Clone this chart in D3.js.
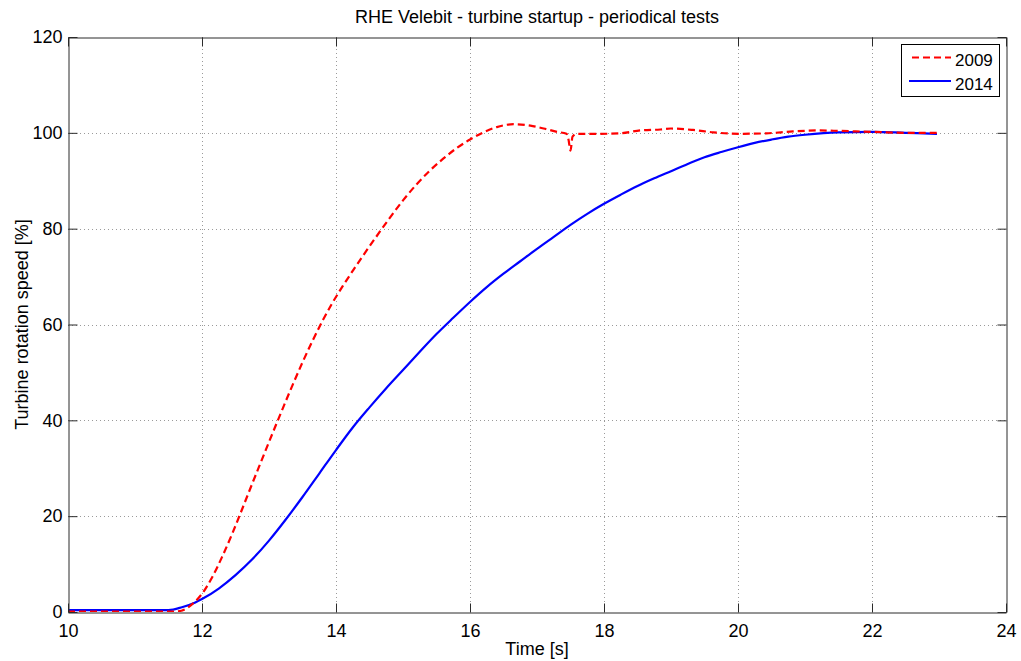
<!DOCTYPE html>
<html>
<head>
<meta charset="utf-8">
<script src="https://cdn.jsdelivr.net/npm/d3@7"></script>
<style>
  html, body { margin: 0; padding: 0; background: #fff; }
  svg { display: block; font-family: "Liberation Sans", Arial, Helvetica, sans-serif; }
</style>
</head>
<body>
<svg id="chart" width="1021" height="661"></svg>
<script>
// Startup run 2009: time [s] and speed [%]
const time2009 = [10, 11.0, 11.6, 11.75, 11.85, 12.0, 12.15, 12.3, 12.45, 12.6, 12.75, 12.9,
  13.05, 13.2, 13.35, 13.5, 13.65, 13.8, 13.95, 14.1, 14.25, 14.4, 14.6, 14.8, 15.0, 15.2,
  15.4, 15.6, 15.8, 16.0, 16.2, 16.4, 16.65, 16.9, 17.1, 17.3, 17.44, 17.47, 17.5, 17.53,
  17.59, 17.94, 18.24, 18.54, 18.84, 19.0, 19.33, 19.63, 20.03, 20.42, 20.82, 21.22, 21.52,
  22.01, 22.5, 23.0];
const speed2009 = [0.1, 0.1, 0.1, 0.6, 1.6, 3.8, 7.2, 11.5, 16.3, 21.5, 26.8, 32.0,
  37.2, 42.3, 47.3, 52.1, 56.6, 60.8, 64.6, 68.0, 71.2, 74.3, 78.3, 82.2, 85.9, 89.2,
  92.1, 94.6, 96.8, 98.6, 100.1, 101.2, 101.8, 101.5, 100.9, 100.2, 99.8, 98.6, 96.3, 99.2,
  99.8, 99.8, 99.9, 100.5, 100.7, 100.9, 100.6, 100.1, 99.8, 99.9, 100.3, 100.5, 100.4,
  100.2, 100.0, 100.0];

// Startup run 2014: time [s] and speed [%]
const time2014 = [10, 11.0, 11.5, 11.7, 11.9, 12.0, 12.25, 12.5, 12.75, 13.0, 13.25, 13.5,
  13.75, 14.0, 14.25, 14.5, 14.75, 15.0, 15.25, 15.5, 15.75, 16.0, 16.25, 16.5, 16.75,
  17.0, 17.25, 17.5, 17.75, 18.0, 18.25, 18.5, 18.75, 19.0, 19.25, 19.5, 19.75, 20.0,
  20.25, 20.5, 20.75, 21.0, 21.5, 22.0, 22.5, 22.97];
const speed2014 = [0.4, 0.4, 0.4, 1.0, 2.0, 2.7, 4.9, 7.7, 11.0, 14.9, 19.3, 24.0,
  28.9, 33.8, 38.5, 42.7, 46.7, 50.5, 54.3, 58.0, 61.4, 64.7, 67.8, 70.6, 73.2,
  75.8, 78.3, 80.8, 83.1, 85.2, 87.1, 88.9, 90.5, 92.0, 93.5, 94.9, 96.0, 97.0,
  97.9, 98.6, 99.2, 99.6, 100.1, 100.2, 100.0, 99.8];

const xTicks = [10, 12, 14, 16, 18, 20, 22, 24];
const yTicks = [0, 20, 40, 60, 80, 100, 120];
const seriesNames = ["2009", "2014"];

const titleText = "RHE Velebit - turbine startup - periodical tests";
const xLabel = "Time [s]";
const yLabel = "Turbine rotation speed [%]";

const svg = d3.select("#chart");
const plotLeft = 68, plotRight = 1006, plotTop = 37, plotBottom = 612;

const x = d3.scaleLinear().domain([10, 24]).range([plotLeft, plotRight]);
const y = d3.scaleLinear().domain([0, 120]).range([plotBottom, plotTop]);

const fontSize = 18;
const frameColor = "#2b2b2b";

// dotted grid
const grid = svg.append("g").attr("stroke", "#9a9a9a").attr("stroke-width", 1)
  .attr("stroke-dasharray", "1,3");
xTicks.slice(1, -1).forEach(t => {
  grid.append("line").attr("x1", Math.round(x(t)) + 0.5).attr("x2", Math.round(x(t)) + 0.5)
    .attr("y1", plotTop).attr("y2", plotBottom);
});
yTicks.slice(1, -1).forEach(t => {
  grid.append("line").attr("y1", Math.round(y(t)) + 0.5).attr("y2", Math.round(y(t)) + 0.5)
    .attr("x1", plotLeft).attr("x2", plotRight);
});

// series
svg.append("clipPath").attr("id", "plotclip").append("rect")
  .attr("x", plotLeft).attr("y", plotTop)
  .attr("width", plotRight - plotLeft).attr("height", plotBottom - plotTop);

const line = d3.line().x(d => x(d[0])).y(d => y(d[1])).curve(d3.curveMonotoneX);
const d2014 = time2014.map((t, i) => [t, speed2014[i]]);
const d2009 = time2009.map((t, i) => [t, speed2009[i]]);

const plot = svg.append("g").attr("clip-path", "url(#plotclip)");
plot.append("path").datum(d2014).attr("d", line)
  .attr("fill", "none").attr("stroke", "#0000ff").attr("stroke-width", 2.2);
plot.append("path").datum(d2009).attr("d", line)
  .attr("fill", "none").attr("stroke", "#ff0000").attr("stroke-width", 2.2)
  .attr("stroke-dasharray", "7,4");

// axes box with inward ticks on all four sides
const xAxisBottom = d3.axisBottom(x).tickValues(xTicks).tickSizeInner(-9).tickSizeOuter(0)
  .tickPadding(12).tickFormat(d3.format("d"));
const xAxisTop = d3.axisTop(x).tickValues(xTicks).tickSizeInner(-9).tickSizeOuter(0)
  .tickFormat("");
const yAxisLeft = d3.axisLeft(y).tickValues(yTicks).tickSizeInner(-9).tickSizeOuter(0)
  .tickPadding(6).tickFormat(d3.format("d"));
const yAxisRight = d3.axisRight(y).tickValues(yTicks).tickSizeInner(-9).tickSizeOuter(0)
  .tickFormat("");

function styleAxis(g) {
  g.selectAll("path.domain").attr("stroke", frameColor).attr("stroke-width", 1);
  g.selectAll(".tick line").attr("stroke", frameColor).attr("stroke-width", 1);
  g.selectAll(".tick text").attr("fill", "#000").attr("font-size", fontSize)
    .attr("font-family", "Liberation Sans, Arial, sans-serif");
}

svg.append("g").attr("transform", `translate(0,${plotBottom + 0.5})`).call(xAxisBottom).call(styleAxis);
svg.append("g").attr("transform", `translate(0,${plotTop + 0.5})`).call(xAxisTop).call(styleAxis);
svg.append("g").attr("transform", `translate(${plotLeft + 0.5},0)`).call(yAxisLeft).call(styleAxis);
svg.append("g").attr("transform", `translate(${plotRight + 0.5},0)`).call(yAxisRight).call(styleAxis);

// titles
svg.append("text").attr("x", (plotLeft + plotRight) / 2).attr("y", 23).attr("text-anchor", "middle")
  .attr("font-size", fontSize).attr("fill", "#000").text(titleText);
svg.append("text").attr("x", (plotLeft + plotRight) / 2).attr("y", 655).attr("text-anchor", "middle")
  .attr("font-size", fontSize).attr("fill", "#000").text(xLabel);
svg.append("text").attr("transform", `translate(28,${(plotTop + plotBottom) / 2}) rotate(-90)`)
  .attr("text-anchor", "middle").attr("font-size", fontSize).attr("fill", "#000").text(yLabel);

// legend
const legend = svg.append("g");
legend.append("rect").attr("x", 901.5).attr("y", 44.5).attr("width", 98).attr("height", 52)
  .attr("fill", "#fff").attr("stroke", "#000").attr("stroke-width", 1);
const legendStyles = [
  { color: "#ff0000", dash: "7,4", x1: 912, ly: 57.5, ty: 66 },
  { color: "#0000ff", dash: null, x1: 909, ly: 81, ty: 90 }
];
seriesNames.forEach((name, i) => {
  const s = legendStyles[i];
  legend.append("line").attr("x1", s.x1).attr("x2", 951).attr("y1", s.ly).attr("y2", s.ly)
    .attr("stroke", s.color).attr("stroke-width", 2.2)
    .attr("stroke-dasharray", s.dash);
  legend.append("text").attr("x", 955).attr("y", s.ty).attr("font-size", 17)
    .attr("fill", "#000").text(name);
});
</script>
</body>
</html>
